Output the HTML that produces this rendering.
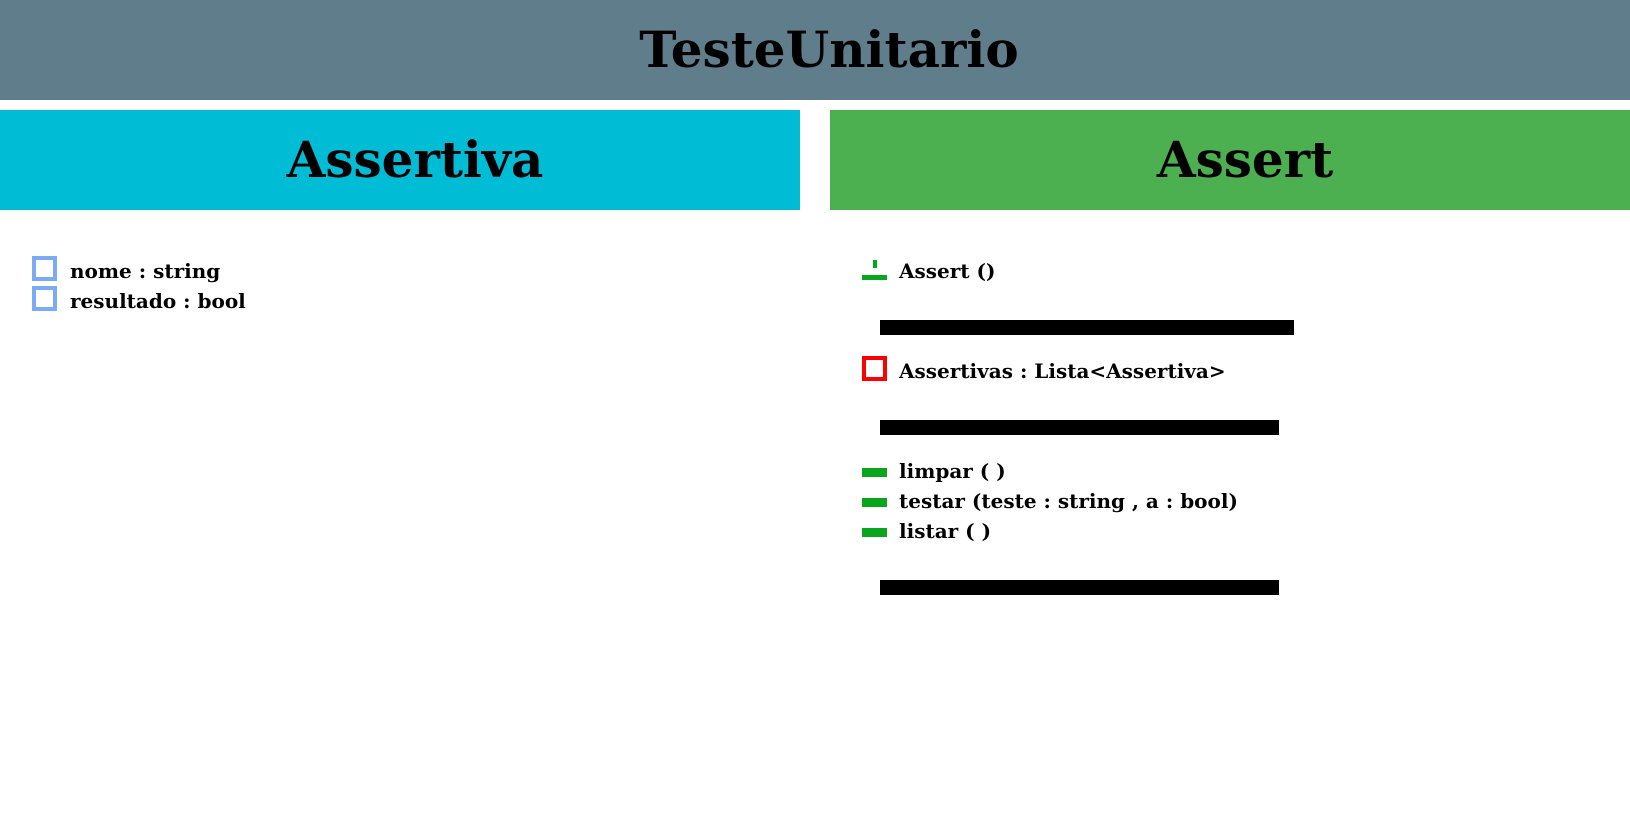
<!DOCTYPE html>
<html><head><meta charset="utf-8"><style>
body{margin:0;width:1630px;height:840px;background:#fff;position:relative;overflow:hidden;font-family:"DejaVu Serif","Liberation Serif",serif;font-weight:bold;color:#000}
div{position:absolute;box-sizing:border-box}
.t{white-space:nowrap;font-size:20px;line-height:20px}
.sq{width:25px;height:25px;border:4px solid #7baaf7;background:#fff}
.g{background:#09a51d;width:25px;height:9px;left:862px}
.bar{background:#000;height:15px;left:880px}
</style></head><body>
<div style="left:0;top:0;width:1630px;height:100px;background:#607d8b"></div>
<div style="left:0;top:0;width:1630px;height:100px;line-height:100px;text-align:center;font-size:50px;padding-left:28px">TesteUnitario</div>
<div style="left:0;top:110px;width:800px;height:100px;background:#00bcd4;line-height:100px;text-align:center;font-size:50px;padding-left:30px">Assertiva</div>
<div style="left:830px;top:110px;width:800px;height:100px;background:#4caf50;line-height:100px;text-align:center;font-size:50px;padding-left:30px">Assert</div>

<div class="sq" style="left:32px;top:256px"></div>
<div class="sq" style="left:32px;top:286px"></div>
<div class="t" style="left:70px;top:261px">nome : string</div>
<div class="t" style="left:70px;top:291px">resultado : bool</div>

<div style="left:873px;top:260px;width:4px;height:8px;background:#09a51d"></div>
<div style="left:862px;top:275px;width:25px;height:5px;background:#09a51d"></div>
<div class="t" style="left:899px;top:261px">Assert ()</div>
<div class="bar" style="top:320px;width:414px"></div>
<div class="sq" style="left:862px;top:356px;border-color:#f00"></div>
<div class="t" style="left:899px;top:361px">Assertivas : Lista&lt;Assertiva&gt;</div>
<div class="bar" style="top:420px;width:399px"></div>
<div class="g" style="top:468px"></div>
<div class="g" style="top:498px"></div>
<div class="g" style="top:528px"></div>
<div class="t" style="left:899px;top:461px">limpar ( )</div>
<div class="t" style="left:899px;top:491px">testar (teste : string , a : bool)</div>
<div class="t" style="left:899px;top:521px">listar ( )</div>
<div class="bar" style="top:580px;width:399px"></div>
</body></html>
